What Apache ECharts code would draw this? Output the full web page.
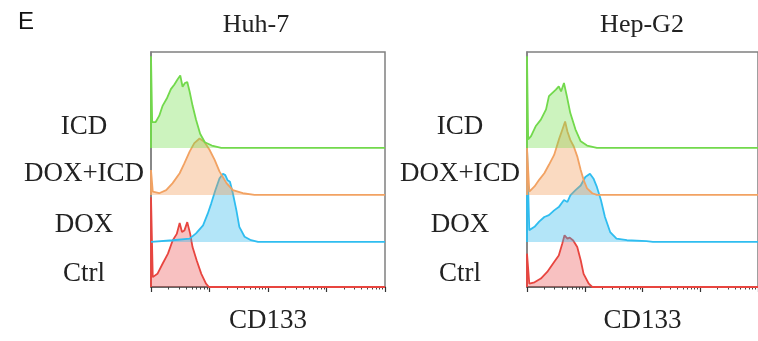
<!DOCTYPE html>
<html>
<head>
<meta charset="utf-8">
<script src="https://cdn.jsdelivr.net/npm/echarts@6/dist/echarts.min.js"></script>
<style>
  html, body { margin: 0; padding: 0; background: #fff; }
  #chart { width: 758px; height: 341px; }
</style>
</head>
<body>
<div id="chart"></div>
<script>
// rows from bottom to top
var rowNames = ['Ctrl', 'DOX', 'DOX+ICD', 'ICD'];
var rowOffsets = [0, 0.96, 1.96, 2.96];
var rowLabelPos = [0.28, 1.32, 2.4, 3.4];
var panelTitles = ['Huh-7', 'Hep-G2'];
var xName = 'CD133';

// histograms: [log decade, height]
var huhCtrl = [[0,0],[0,1.91],[0.03,0.21],[0.11,0.28],[0.2,0.5],[0.29,0.71],[0.37,0.99],[0.44,1.13],[0.49,1.36],[0.53,1.17],[0.57,1.2],[0.62,1.38],[0.67,1.13],[0.71,0.85],[0.78,0.57],[0.86,0.28],[0.94,0.07],[0.99,0],[4,0]];
var huhDox = [[0,0],[0.37,0.035],[0.66,0.07],[0.77,0.18],[0.89,0.35],[0.97,0.6],[1.03,0.82],[1.1,1.1],[1.17,1.35],[1.23,1.45],[1.27,1.42],[1.31,1.31],[1.35,1.28],[1.4,1.03],[1.46,0.67],[1.51,0.32],[1.6,0.11],[1.71,0.035],[1.83,0],[4,0]];
var huhDoxIcd = [[0,0],[0,0.53],[0.03,0.07],[0.14,0.035],[0.26,0.1],[0.37,0.25],[0.49,0.46],[0.57,0.67],[0.66,0.92],[0.74,1.1],[0.83,1.2],[0.91,1.13],[1.0,0.96],[1.09,0.74],[1.17,0.5],[1.29,0.25],[1.4,0.1],[1.57,0.035],[1.77,0],[4,0]];
var huhIcd = [[0,0],[0,1.95],[0.02,0.55],[0.08,0.55],[0.14,0.68],[0.2,0.9],[0.27,1.05],[0.34,1.25],[0.4,1.35],[0.45,1.45],[0.5,1.54],[0.54,1.3],[0.58,1.38],[0.62,1.4],[0.66,1.2],[0.71,0.9],[0.77,0.6],[0.84,0.3],[0.92,0.12],[1.04,0.05],[1.2,0],[4,0]];

var hepCtrl = [[0,0],[0,0.71],[0.04,0.07],[0.13,0.1],[0.24,0.18],[0.35,0.32],[0.47,0.53],[0.55,0.67],[0.61,0.92],[0.65,1.1],[0.7,1.03],[0.74,1.05],[0.8,0.99],[0.87,0.85],[0.93,0.57],[0.98,0.28],[1.07,0.07],[1.13,0],[4,0]];
var hepDox = [[0,0],[0,2.0],[0.04,0.25],[0.13,0.32],[0.21,0.43],[0.3,0.53],[0.38,0.57],[0.47,0.67],[0.55,0.74],[0.64,0.89],[0.7,0.85],[0.75,0.99],[0.84,1.1],[0.93,1.2],[1.01,1.38],[1.09,1.45],[1.15,1.35],[1.21,1.17],[1.28,0.89],[1.35,0.53],[1.44,0.21],[1.55,0.07],[1.73,0.035],[2.07,0.015],[2.18,0],[4,0]];
var hepDoxIcd = [[0,0],[0,1.0],[0.04,0.07],[0.13,0.18],[0.21,0.32],[0.3,0.46],[0.38,0.64],[0.47,0.85],[0.55,1.17],[0.61,1.38],[0.66,1.56],[0.7,1.35],[0.75,1.17],[0.81,1.03],[0.87,0.82],[0.93,0.53],[0.98,0.32],[1.04,0.14],[1.13,0.035],[1.21,0],[4,0]];
var hepIcd = [[0,0],[0,1.95],[0.02,0.18],[0.07,0.25],[0.15,0.46],[0.24,0.6],[0.33,0.82],[0.38,1.1],[0.44,1.17],[0.5,1.24],[0.55,1.31],[0.59,1.2],[0.64,1.38],[0.69,1.1],[0.75,0.74],[0.84,0.39],[0.93,0.14],[1.04,0.05],[1.21,0],[4,0]];

var panelData = [
  [huhCtrl, huhDox, huhDoxIcd, huhIcd],
  [hepCtrl, hepDox, hepDoxIcd, hepIcd]
];

var lineColors = ['#e8453f', '#2fbdf0', '#f2a262', '#72d94c'];
var fillColors = ['rgba(235,80,80,0.5)', 'rgba(40,180,235,0.5)', 'rgba(240,150,80,0.5)', 'rgba(110,220,70,0.5)'];

// minor ticks of the log axis (2..9 in every decade)
var minorTicks = [];
for (var dec = 0; dec < 4; dec++) {
  for (var k = 2; k < 10; k++) minorTicks.push(dec + Math.log10(k));
}

var serif = 'Liberation Serif';
var gridLefts = [151, 527];

var grids = [], xAxes = [], yAxes = [], series = [], graphics = [];

gridLefts.forEach(function (left, p) {
  grids.push({
    left: left, top: 52, width: 234, height: 235,
    show: true, borderColor: '#808080', borderWidth: 1.5
  });
  // major decade ticks
  xAxes.push({
    gridIndex: p, type: 'value', position: 'bottom', min: 0, max: 4, interval: 1,
    name: xName, nameLocation: 'middle', nameGap: 20,
    nameTextStyle: { fontFamily: serif, fontSize: 27, color: '#222' },
    axisLine: { lineStyle: { color: '#555', width: 1.5 } },
    axisTick: { length: 5, lineStyle: { color: '#333', width: 1.2 } },
    axisLabel: { show: false },
    splitLine: { show: false }
  });
  // minor ticks
  xAxes.push({
    gridIndex: p, type: 'value', position: 'bottom', min: 0, max: 4,
    axisLine: { show: false },
    axisTick: { length: 2.5, customValues: minorTicks, lineStyle: { color: '#444', width: 1 } },
    axisLabel: { show: false },
    splitLine: { show: false }
  });
  yAxes.push({
    gridIndex: p, type: 'value', min: 0, max: 5,
    axisLine: { show: true, lineStyle: { color: '#808080', width: 1.5 } },
    axisTick: { show: false },
    splitLine: { show: false },
    axisLabel: {
      customValues: rowLabelPos,
      formatter: function (v) {
        var i = rowLabelPos.indexOf(v);
        return i >= 0 ? rowNames[i] : '';
      },
      fontFamily: serif, fontSize: 27, color: '#222',
      align: 'center', margin: 67
    }
  });
  panelData[p].forEach(function (hist, r) {
    series.push({
      type: 'line',
      xAxisIndex: p * 2, yAxisIndex: p,
      showSymbol: false, symbol: 'none',
      silent: true,
      z: 2 + r,
      lineStyle: { color: lineColors[r], width: 1.8 },
      areaStyle: { color: fillColors[r], origin: rowOffsets[r] },
      data: hist.map(function (pt) { return [pt[0], pt[1] + rowOffsets[r]]; })
    });
  });
  graphics.push({
    type: 'text', x: p === 0 ? 256 : 642, y: 25,
    style: {
      text: panelTitles[p], fontFamily: serif, fontSize: 26, fill: '#222',
      textAlign: 'center', textVerticalAlign: 'middle'
    }
  });
});

graphics.push({
  type: 'text', x: 18, y: 22,
  style: {
    text: 'E', fontFamily: 'Liberation Sans', fontSize: 24, fill: '#111',
    textAlign: 'left', textVerticalAlign: 'middle'
  }
});

var chart = echarts.init(document.getElementById('chart'));
chart.setOption({
  animation: false,
  backgroundColor: '#fff',
  grid: grids,
  xAxis: xAxes,
  yAxis: yAxes,
  series: series,
  graphic: graphics
});
</script>
</body>
</html>
